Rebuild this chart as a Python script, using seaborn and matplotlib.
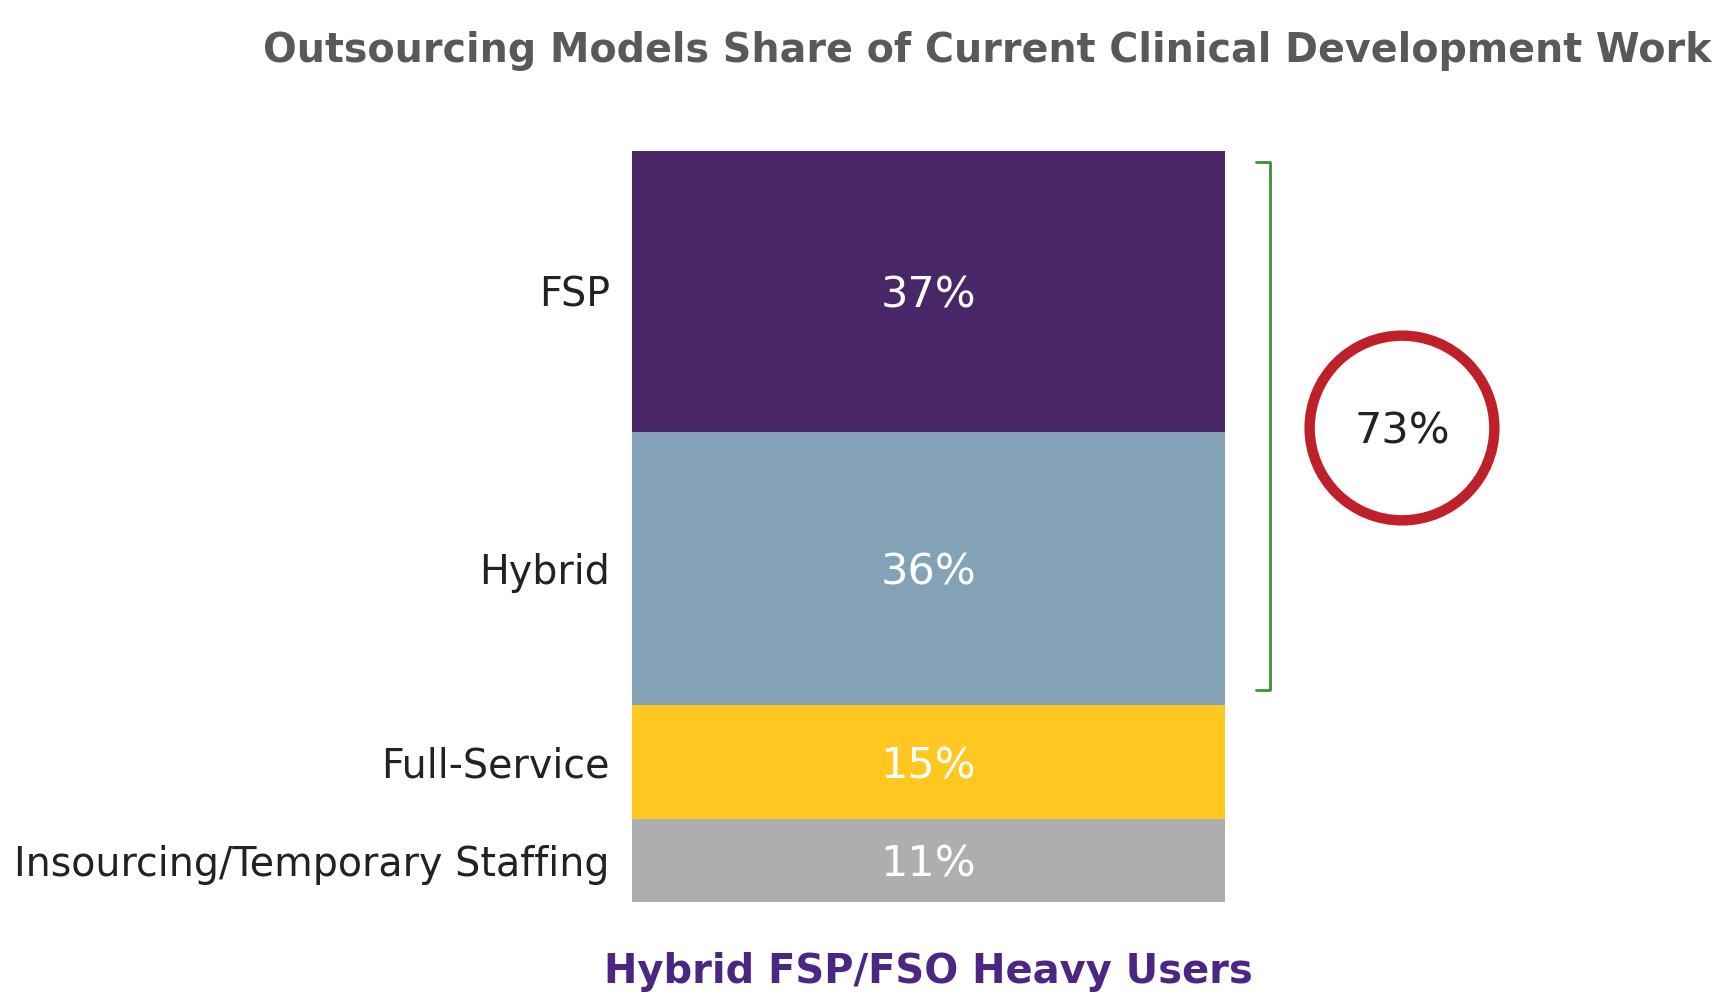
import matplotlib.pyplot as plt
import seaborn as sns

categories = ["FSP", "Hybrid", "Full-Service", "Insourcing/Temporary Staffing"]
shares = [37, 36, 15, 11]
value_labels = ["37%", "36%", "15%", "11%"]
colors = ["#482668", "#84A2B7", "#FFC720", "#AEAEB0"]
group_label = "Hybrid FSP/FSO Heavy Users"
bracket_total = "73%"

sns.set_theme(style="white")
plt.rcParams['font.family'] = ['DejaVu Sans']

fig = plt.figure(figsize=(17.2, 10.07), dpi=100)
ax = fig.add_axes([632 / 1720, 105 / 1007, 593 / 1720, 751 / 1007])

# stacked bar: draw cumulative tops, biggest first, smaller ones on top
tops = []
running = 0
for v in reversed(shares):
    running += v
    tops.append(running)
tops = list(reversed(tops))  # [99, 62, 26, 11]

for top, col in zip(tops, colors):
    sns.barplot(x=[group_label], y=[top], color=col, width=1.0,
                saturation=1, linewidth=0, ax=ax)

centers = [t - v / 2 for t, v in zip(tops, shares)]
for c, lab in zip(centers, value_labels):
    ax.text(0, c - 0.6, lab, ha="center", va="center", color="white", fontsize=31)

ax.set_xlim(-0.5, 0.5)
ax.set_ylim(0, sum(shares))
ax.set_yticks(centers)
ax.set_yticklabels(categories, fontsize=28.5, color="#222222")
ax.tick_params(axis="y", length=0, pad=16)
ax.tick_params(axis="x", length=0, pad=36)
for t in ax.get_xticklabels():
    t.set_fontsize(28.8)
    t.set_fontweight("bold")
    t.set_color("#4B2683")
sns.despine(ax=ax, left=True, bottom=True)
ax.set_xlabel("")
ax.set_ylabel("")

# bracket around FSP + Hybrid
bx = 0.5 + 45 / 593
tip = 0.5 + 31 / 593
y_lo, y_hi = tops[2] + 2, tops[0] - 1.5
ax.plot([tip, bx, bx, tip], [y_hi, y_hi, y_lo, y_lo], color="#3F8F3F",
        lw=2, clip_on=False, solid_joinstyle="round")

# circle with the combined share
cx = 0.5 + (1402 - 1225) / 593
cy = tops[0] - (428 - 151) / (751 / sum(shares))
ax.scatter([cx], [cy], s=133 ** 2, facecolors="none", edgecolors="#C0202A",
           linewidths=7.5, clip_on=False, zorder=5)
ax.text(cx, cy - 0.4, bracket_total, ha="center", va="center", fontsize=31,
        color="#222222")

fig.text(0.574, 0.949, "Outsourcing Models Share of Current Clinical Development Work",
         ha="center", va="center", fontsize=28.5, fontweight="bold", color="#595959")

fig.savefig("out.png", dpi=100)
